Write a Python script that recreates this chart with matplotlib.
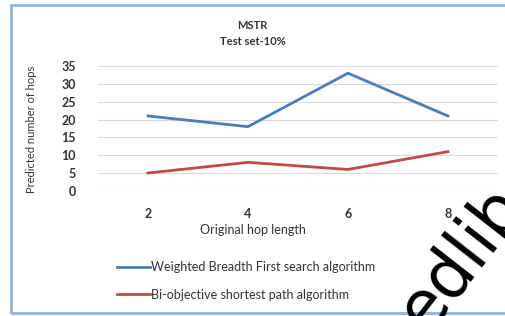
import matplotlib.pyplot as plt
from matplotlib.patches import Rectangle

hop_length = ["2", "4", "6", "8"]
wbfs_hops = [21, 18, 33, 21]
biobj_hops = [5, 8, 6, 11]
y_ticks = [0, 5, 10, 15, 20, 25, 30, 35]

plt.rcParams['font.family'] = ['Lato', 'DejaVu Sans']

fig = plt.figure(figsize=(5.05, 3.16), dpi=100)
ax = fig.add_axes([0.194, 0.396, 0.792, 0.395])

x = range(len(hop_length))
ax.plot(x, wbfs_hops, color="#4A7EBB", lw=2, label="Weighted Breadth First search algorithm")
ax.plot(x, biobj_hops, color="#BE4B48", lw=2, label="Bi-objective shortest path algorithm")

ax.set_xlim(-0.5, 3.5)
ax.set_ylim(0, 35)
ax.set_yticks(y_ticks)
ax.set_xticks(list(x))
ax.set_xticklabels(hop_length)
ax.grid(axis="y", color="#D9D9D9", lw=0.8)
ax.set_axisbelow(True)
for s in ax.spines.values():
    s.set_visible(False)
ax.tick_params(length=0, labelsize=9, colors="#333333", pad=16)
ax.tick_params(axis="x", pad=12)
for lbl in ax.get_xticklabels() + ax.get_yticklabels():
    lbl.set_fontweight("bold")

fig.text(0.5, 0.92, "MSTR", ha="center", va="center", fontsize=8, fontweight="bold", color="#333333")
fig.text(0.5, 0.868, "Test set-10%", ha="center", va="center", fontsize=8, fontweight="bold", color="#333333")
fig.text(0.063, 0.59, "Predicted number of hops", rotation=90, ha="center", va="center",
         fontsize=8, color="#333333", fontstretch="condensed")
fig.text(0.5, 0.272, "Original hop length", ha="center", va="center", fontsize=9, color="#333333")

handles, labels = ax.get_legend_handles_labels()
fig.legend(handles, labels, loc="upper left", bbox_to_anchor=(0.21, 0.21), frameon=False,
           fontsize=9, handlelength=2.6, handletextpad=0.1, labelspacing=1.25,
           labelcolor="#333333")

fig.patches.append(Rectangle((0.022, 0.008), 1.1, 0.975, transform=fig.transFigure,
                             fill=False, edgecolor="#8DB4E2", lw=2))

# watermark over the bottom-right corner
fig.text(0.915, 0.18, "edlib", rotation=52, ha="center", va="center", fontsize=48,
         color="black", family="DejaVu Sans")

fig.savefig("out.png", dpi=100, facecolor="white")
